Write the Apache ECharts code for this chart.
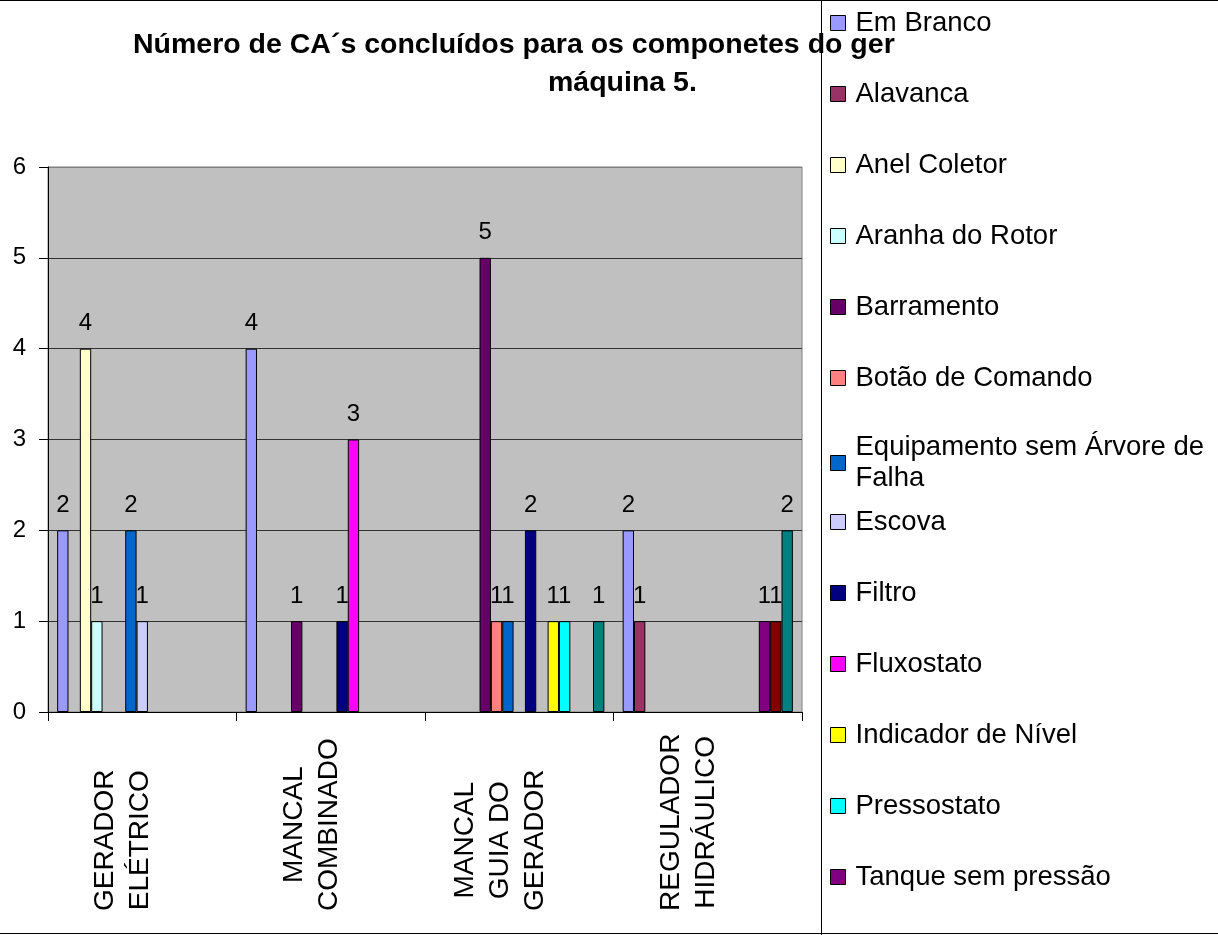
<!DOCTYPE html>
<html>
<head>
<meta charset="utf-8">
<title>Número de CA´s concluídos - máquina 5</title>
<script src="https://cdn.jsdelivr.net/npm/echarts@6/dist/echarts.min.js"></script>
<style>
  html, body { margin: 0; padding: 0; background: #fff; }
  #main { width: 1218px; height: 935px; }
</style>
</head>
<body>
<div id="main"></div>
<script>
// componentes do gerador (eixo x)
var categorias = ['GERADOR\nELÉTRICO', 'MANCAL\nCOMBINADO', 'MANCAL\nGUIA DO\nGERADOR', 'REGULADOR\nHIDRÁULICO'];

// escala do eixo y
var yMin = 0;
var yMax = 6;
var yPasso = 1;

// nº de CA's por item (null = sem valor)
var emBranco       = [2, 4, null, 2];
var alavanca       = [null, null, null, 1];
var anelColetor    = [4, null, null, null];
var aranhaRotor    = [1, null, null, null];
var barramento     = [null, 1, 5, null];
var botaoComando   = [null, null, 1, null];
var equipamento    = [2, null, 1, null];
var escova         = [1, null, null, null];
var filtro         = [null, 1, 2, null];
var fluxostato     = [null, 3, null, null];
var indicadorNivel = [null, null, 1, null];
var pressostato    = [null, null, 1, null];
var tanque         = [null, null, null, 1];
var trocador       = [null, null, null, 1];
var valvula        = [null, null, 1, 2];

var nomes = ['Em Branco', 'Alavanca', 'Anel Coletor', 'Aranha do Rotor', 'Barramento',
  'Botão de Comando', 'Equipamento sem Árvore de Falha', 'Escova', 'Filtro', 'Fluxostato',
  'Indicador de Nível', 'Pressostato', 'Tanque sem pressão', 'Trocador de Calor', 'Válvula'];
var valores = [emBranco, alavanca, anelColetor, aranhaRotor, barramento, botaoComando,
  equipamento, escova, filtro, fluxostato, indicadorNivel, pressostato, tanque, trocador, valvula];
var cores = ['#9999FF', '#993366', '#FFFFCC', '#CCFFFF', '#660066', '#FF8080', '#0066CC',
  '#CCCCFF', '#000080', '#FF00FF', '#FFFF00', '#00FFFF', '#800080', '#800000', '#008080'];

var fonte = '"Liberation Sans", Arial, sans-serif';

var myChart = echarts.init(document.getElementById('main'));

var series1 = [];
for (var i = 0; i < nomes.length; i++) {
  series1.push({
    name: nomes[i],
    type: 'bar',
    barGap: '0%',
    barCategoryGap: '9.7%',
    data: valores[i],
    itemStyle: { color: cores[i], borderColor: '#000', borderWidth: 1 },
    label: {
      show: true,
      position: 'top',
      distance: 13,
      fontSize: 24,
      fontFamily: fonte,
      color: '#000'
    }
  });
}

// a legenda original é cortada depois do 13º item;
// dividida em duas partes por causa do item com quebra de linha
function legenda (itens, topo) {
  return {
    data: itens,
    orient: 'vertical',
    left: 830,
    top: topo,
    padding: 0,
    itemWidth: 15,
    itemHeight: 15,
    itemGap: 40,
    icon: 'rect',
    itemStyle: { borderColor: '#000', borderWidth: 1 },
    formatter: function (name) {
      if (name === 'Equipamento sem Árvore de Falha') {
        return 'Equipamento sem Árvore de\nFalha';
      }
      return name;
    },
    textStyle: {
      fontSize: 27.5,
      fontFamily: fonte,
      color: '#000',
      lineHeight: 31,
      height: 31,
      padding: [0, 0, 0, 5]
    }
  };
}

var options = {
  animation: false,
  backgroundColor: '#fff',
  title: [
    {
      text: 'Número de CA´s concluídos para os componetes do ger',
      left: 133,
      top: 31,
      padding: 0,
      textStyle: { fontSize: 28.5, fontWeight: 'bold', fontFamily: fonte, color: '#000' }
    },
    {
      text: 'máquina 5.',
      left: 548,
      top: 69,
      padding: 0,
      textStyle: { fontSize: 28.5, fontWeight: 'bold', fontFamily: fonte, color: '#000' }
    }
  ],
  legend: [
    legenda(nomes.slice(0, 7), 7.5),
    legenda(nomes.slice(7, 13), 506.5)
  ],
  grid: {
    left: 48,
    top: 167,
    width: 754,
    height: 545,
    show: true,
    backgroundColor: '#C0C0C0',
    borderColor: '#808080',
    borderWidth: 1
  },
  xAxis: {
    type: 'category',
    data: categorias,
    axisLine: { show: true, lineStyle: { color: '#000', width: 1 } },
    axisTick: { show: true, length: 9, alignWithLabel: false, lineStyle: { color: '#000' } },
    axisLabel: {
      interval: 0,
      rotate: 90,
      align: 'left',
      verticalAlign: 'middle',
      margin: 199,
      padding: [0, 0, 38, 0],
      formatter: function (v) {
        return v.split('\n').map(function (s) { return '{a|' + s + '}'; }).join('\n');
      },
      rich: {
        a: { fontSize: 28, lineHeight: 35, align: 'center', fontFamily: fonte, color: '#000' }
      }
    },
    splitLine: { show: false }
  },
  yAxis: {
    type: 'value',
    min: yMin,
    max: yMax,
    interval: yPasso,
    axisLine: { show: true, lineStyle: { color: '#000', width: 1 } },
    axisTick: { show: true, length: 9, lineStyle: { color: '#000' } },
    axisLabel: { fontSize: 24, fontFamily: fonte, color: '#000', margin: 22 },
    splitLine: {
      show: true,
      lineStyle: { color: ['#333', '#333', '#333', '#333', '#333', '#333', '#808080'], width: 1 }
    }
  },
  graphic: [
    {
      type: 'rect',
      silent: true,
      z: 100,
      shape: { x: -5, y: 0.5, width: 1230, height: 933 },
      style: { fill: 'none', stroke: '#000', lineWidth: 1 }
    },
    {
      type: 'line',
      silent: true,
      z: 100,
      shape: { x1: 821.5, y1: 0, x2: 821.5, y2: 935 },
      style: { stroke: '#000', lineWidth: 1 }
    }
  ],
  series: series1
};

myChart.setOption(options);
</script>
</body>
</html>
